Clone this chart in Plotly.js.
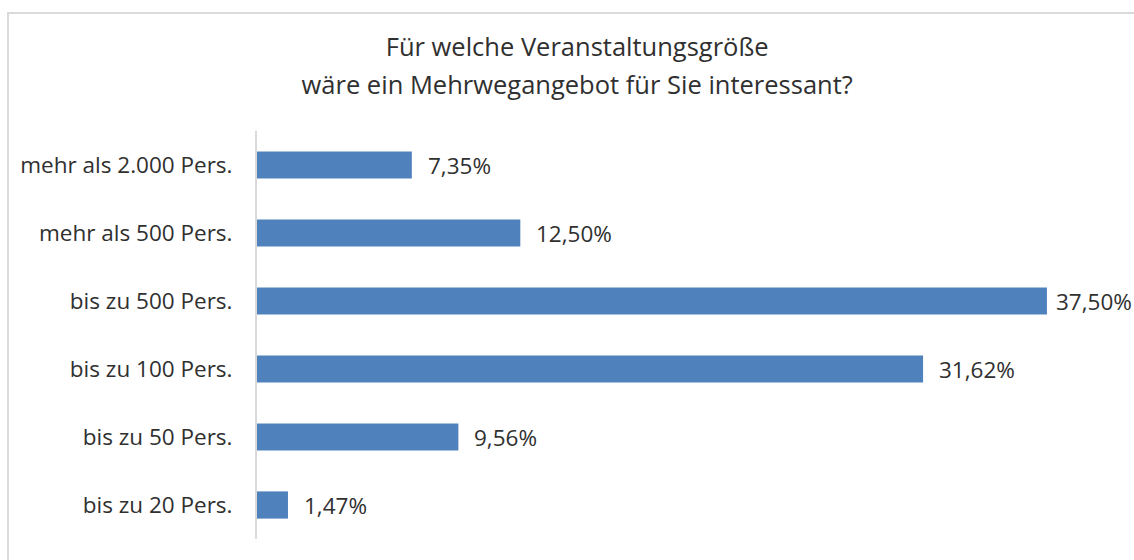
<!DOCTYPE html>
<html>
<head>
<meta charset="utf-8">
<script src="https://cdn.plot.ly/plotly-3.0.1.min.js"></script>
<style>
  body { margin: 0; background: #fff; }
  #graph { width: 1134px; height: 560px; }
  /* light frame of the original chart box, cut off at right and bottom */
  #frame {
    position: absolute; left: 7px; top: 12px;
    width: 1200px; height: 600px;
    border: 2px solid #dadada; pointer-events: none;
  }
</style>
</head>
<body>
<div id="graph"></div>
<div id="frame"></div>
<script>
// categories from top to bottom, as in the picture
var categories = [
    "mehr als 2.000 Pers.",
    "mehr als 500 Pers.",
    "bis zu 500 Pers.",
    "bis zu 100 Pers.",
    "bis zu 50 Pers.",
    "bis zu 20 Pers."
];
// share of answers in percent
var shares = [7.35, 12.50, 37.50, 31.62, 9.56, 1.47];

var titleLines = ["Für welche Veranstaltungsgröße", "wäre ein Mehrwegangebot für Sie interessant?"];

function drawGraph() {
    var trace, labels, layout, titleText;
    var margin = { l: 257, r: 66, t: 131, b: 21 };
    var xMax = 38.5;
    var pxPerUnit = (1134 - margin.l - margin.r) / xMax;

    trace = {
        type: 'bar',
        orientation: 'h',
        x: shares,
        y: categories,
        marker: { color: '#4f81bd' },
        hoverinfo: 'none'
    };

    // value labels to the right of every bar, German decimal comma;
    // like Excel, a label that would run off the edge is pulled closer to its bar
    labels = shares.map(function (v, i) {
        var txt = v.toFixed(2).replace('.', ',') + '%';
        var room = (xMax - v) * pxPerUnit + margin.r - txt.length * 13 - 2;
        return {
            x: v,
            y: categories[i],
            xref: 'x',
            yref: 'y',
            text: txt,
            showarrow: false,
            xanchor: 'left',
            xshift: Math.min(14, room),
            font: { family: 'Open Sans', size: 22.5, color: '#303030' }
        };
    });

    // big title font gives the wide line spacing, the spans set the real glyph size
    titleText = titleLines.map(function (t) {
        return '<span style="font-size:25.5px">' + t + '</span>';
    }).join('<br>');

    layout = {
        width: 1134,
        height: 560,
        margin: margin,
        paper_bgcolor: '#ffffff',
        plot_bgcolor: '#ffffff',
        bargap: 0.6,
        showlegend: false,
        title: {
            text: titleText,
            x: 0.509,
            xref: 'container',
            xanchor: 'center',
            y: 0.9,
            yref: 'container',
            yanchor: 'middle',
            font: { family: 'Open Sans', size: 29, color: '#303030' }
        },
        xaxis: {
            range: [0, xMax],
            showgrid: false,
            zeroline: false,
            showticklabels: false,
            showline: false
        },
        yaxis: {
            autorange: 'reversed',
            showgrid: false,
            zeroline: false,
            showline: true,
            linecolor: '#d9d9d9',
            linewidth: 2,
            ticks: '',
            ticklabelstandoff: 18,
            tickfont: { family: 'Open Sans', size: 22.5, color: '#303030' }
        },
        annotations: labels
    };

    Plotly.newPlot('graph', [trace], layout, { displayModeBar: false, staticPlot: true });
}

drawGraph();
</script>
</body>
</html>
